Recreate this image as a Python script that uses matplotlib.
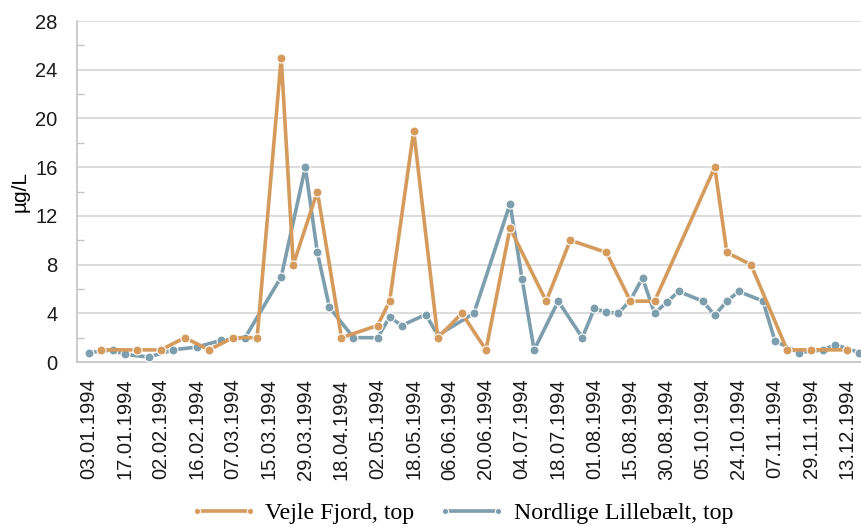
import matplotlib.pyplot as plt
import numpy as np
from matplotlib.ticker import MultipleLocator

# Sampling dates (every third category carries a label), 1994
tick_labels = ['03.01.1994', '17.01.1994', '02.02.1994', '16.02.1994',
               '07.03.1994', '15.03.1994', '29.03.1994', '18.04.1994',
               '02.05.1994', '18.05.1994', '06.06.1994', '20.06.1994',
               '04.07.1994', '18.07.1994', '01.08.1994', '15.08.1994',
               '30.08.1994', '05.10.1994', '24.10.1994', '07.11.1994',
               '29.11.1994', '13.12.1994']
n_categories = 65

# Values in µg/L per category, None where a station was not sampled
vejle = [None, 1, None, None, 1, None, 1, None, 2, None,
         1, None, 2, None, 2, None, 25, 8, None, 14,
         None, 2, None, None, 3, 5, None, 19, None, 2,
         None, 4, None, 1, None, 11, None, None, 5, None,
         10, None, None, 9, None, 5, None, 5, None, None,
         None, None, 16, 9, None, 8, None, None, 1, None,
         1, None, None, 1, None]

nordlige = [0.77, None, 1.0, 0.63, None, 0.41, None, 1.0, None, 1.23,
            None, 1.78, None, 2.0, None, None, 7.0, None, 16, 9,
            4.5, None, 2.0, None, 2.0, 3.7, 3.0, None, 3.9, 2.2,
            None, None, 4.0, None, None, 13, 6.8, 1.0, None, 5.0,
            None, 2.0, 4.4, 4.1, 4.0, 5.1, 6.9, 4.0, 4.9, 5.8,
            None, 5.0, 3.84, 5.0, 5.8, None, 5.0, 1.73, None, 0.77,
            None, 1.0, 1.43, None, 0.77]

orange = '#D59B5C'
blue = '#7C9EAD'


def present(values):
    x = np.array([i for i, v in enumerate(values) if v is not None])
    y = np.array([v for v in values if v is not None], dtype=float)
    return x, y


fig = plt.figure(figsize=(8.61, 5.27), dpi=100)
ax = fig.add_axes([0.0894, 0.313, 0.9106, 0.647])

xb, yb = present(nordlige)
ax.plot(xb, yb, color=blue, lw=2.6, marker='o', ms=6.5, mfc=blue,
        mec='white', mew=0.8, label='Nordlige Lillebælt, top', zorder=3)
xo, yo = present(vejle)
ax.plot(xo, yo, color=orange, lw=2.6, marker='o', ms=6.5, mfc=orange,
        mec='white', mew=0.8, label='Vejle Fjord, top', zorder=4)

ax.set_ylim(0, 28)
ax.set_xlim(-0.96, 64.14)
ax.yaxis.set_major_locator(MultipleLocator(4))
ax.yaxis.set_minor_locator(MultipleLocator(2))
ax.grid(axis='y', color='#D6D6D6', lw=1.2)
ax.set_axisbelow(True)

ax.set_xticks(np.arange(0, n_categories, 3))
ax.set_xticklabels(tick_labels, rotation=90, fontsize=14.5,
                   family='Liberation Sans', color='#1a1a1a')
ax.tick_params(axis='x', length=0, pad=12)
ax.tick_params(axis='y', which='major', length=0, pad=14, labelsize=14.5,
               labelcolor='#1a1a1a')
ax.tick_params(axis='y', which='minor', direction='in', length=5,
               color='#C4C4C4', width=1)
for lab in ax.get_yticklabels():
    lab.set_family('Liberation Sans')

ax.set_ylabel('µg/L', fontsize=15, family='Liberation Sans', labelpad=4)

for side in ['top', 'right']:
    ax.spines[side].set_visible(False)
for side in ['left', 'bottom']:
    ax.spines[side].set_color('#C4C4C4')
    ax.spines[side].set_linewidth(1.2)

handles, labels = ax.get_legend_handles_labels()
leg = fig.legend(handles[::-1], labels[::-1], loc='lower center',
                 bbox_to_anchor=(0.536, -0.035), ncol=2, frameon=False,
                 numpoints=2, handlelength=2.8, handletextpad=0.35,
                 columnspacing=1.0,
                 prop={'family': 'Liberation Serif', 'size': 17.2})
for h in leg.legend_handles:
    h.set_markersize(4.5)

fig.savefig('out.png', dpi=100)
